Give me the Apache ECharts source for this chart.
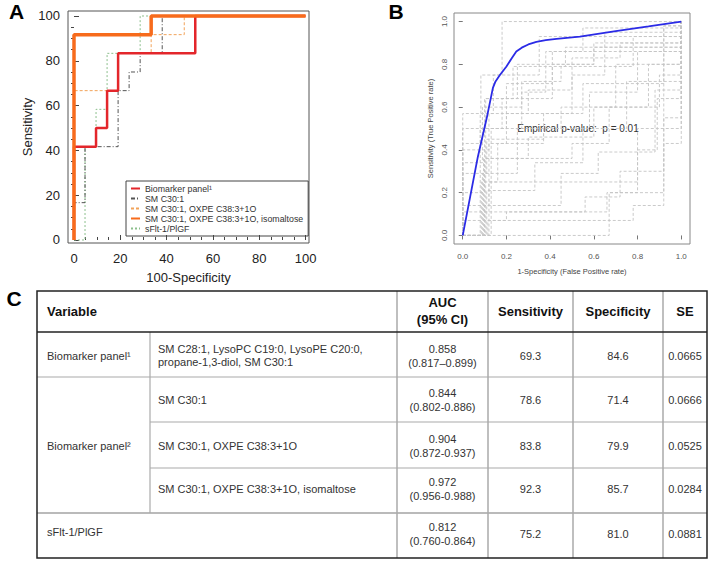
<!DOCTYPE html>
<html><head><meta charset="utf-8">
<script src="https://cdn.jsdelivr.net/npm/echarts@6/dist/echarts.min.js"></script>
<style>html,body{margin:0;padding:0;background:#fff}#c{width:709px;height:561px}</style>
</head><body><div id="c"></div>
<script>
// ---------- Panel A: ROC step curves (x = 100-Specificity, y = Sensitivity) ----------
const seriesNamesA = ['Biomarker panel¹', 'SM C30:1', 'SM C30:1, OXPE C38:3+1O', 'SM C30:1, OXPE C38:3+1O, isomaltose', 'sFlt-1/PlGF'];
const rocBiomarker1 = [[0,0],[0,41.67],[9.52,50],[14.29,66.67],[19.05,83.33],[52.38,100],[100,100]];
const rocSM = [[0,0],[0,16.67],[4.76,41.67],[19.05,66.67],[23.81,75],[28.57,83.33],[38.1,100],[100,100]];
const rocSMOXPE = [[0,0],[0,66.67],[19.05,83.33],[33.33,91.67],[47.62,100],[100,100]];
const rocSMOXPEIso = [[0,0],[0,91.67],[33.33,100],[100,100]];
const rocSflt = [[0,0],[4.76,41.67],[9.52,58.33],[14.29,83.33],[28.57,100],[100,100]];
const ticksA = [0, 20, 40, 60, 80, 100];
const minorTicksA = [5,10,15,25,30,35,45,50,55,65,70,75,85,90,95];

// ---------- Panel B: empirical ROC and permutation curves ----------
const rocEmpirical = [[0,0],[0.069,0.367],[0.11,0.55],[0.138,0.69],[0.15,0.72],[0.17,0.75],[0.2,0.79],[0.225,0.83],[0.245,0.86],[0.27,0.878],[0.3,0.893],[0.337,0.905],[0.38,0.913],[0.429,0.919],[0.5,0.926],[0.536,0.93],[0.7,0.955],[0.85,0.977],[1,1]];
const permutationCurves = [
  [[0,0],[0,0.57],[0.083,0.75],[0.18,1],[1,1]],
  [[0,0],[0,0.5],[0.1,0.64],[0.25,0.8],[0.6,0.88],[1,1]],
  [[0,0],[0,0.43],[0.08,0.5],[0.2,0.71],[0.41,0.86],[0.92,0.98],[1,1]],
  [[0,0],[0,0.4],[0.12,0.57],[0.3,0.68],[0.5,0.83],[0.72,0.9],[1,1]],
  [[0,0],[0,0.34],[0.09,0.6],[0.27,0.72],[0.45,0.79],[0.78,0.93],[1,1]],
  [[0,0],[0,0.29],[0.11,0.45],[0.37,0.5],[0.58,0.67],[0.8,0.86],[1,1]],
  [[0,0],[0,0.2],[0.1,0.36],[0.5,0.43],[0.67,0.6],[0.9,0.75],[1,1]],
  [[0,0],[0,0.14],[0.12,0.25],[0.8,0.4],[0.89,0.64],[1,0.88],[1,1]],
  [[0,0],[0,0.11],[0.56,0.18],[0.72,0.3],[0.92,0.55],[1,1]],
  [[0,0],[0,0.07],[0.78,0.14],[0.92,0.25],[0.92,0.98],[1,1]],
  [[0,0],[0.67,0.2],[0.8,0.5],[1,0.86],[1,1]],
  [[0,0],[0.08,0.57],[0.14,0.75],[0.35,0.93],[1,1]],
  [[0,0],[0.1,0.5],[0.18,0.64],[0.41,0.8],[0.6,0.9],[1,1]],
  [[0,0],[0.09,0.29],[0.25,0.5],[0.45,0.6],[0.7,0.8],[1,0.9],[1,1]],
  [[0,0],[0.11,0.21],[0.33,0.34],[0.55,0.5],[0.75,0.72],[1,0.84],[1,1]],
  [[0,0],[0.12,0.43],[0.2,0.57],[0.5,0.75],[0.65,0.95],[1,1]],
  [[0,0],[0.095,0.36],[0.3,0.46],[0.6,0.6],[0.85,0.8],[1,1]],
  [[0,0],[0.1,0.14],[0.45,0.29],[0.62,0.39],[0.88,0.68],[1,1]],
  [[0,0],[0.085,0.25],[0.16,0.43],[0.37,0.57],[0.55,0.71],[0.92,0.86],[1,1]],
  [[0,0],[0.105,0.64],[0.23,0.79],[0.47,0.88],[1,0.93],[1,1]],
  [[0,0],[0.115,0.07],[0.2,0.11],[0.66,0.2],[0.92,0.43],[1,1]],
  [[0,0],[0.13,0.5],[0.27,0.67],[0.38,0.86],[0.55,0.97],[1,1]]
];
const ticksB = [0, 0.2, 0.4, 0.6, 0.8, 1.0];
const pValueText = 'Empirical p-value:  p = 0.01';

// ---------- Panel C: table ----------
const tableHeaders = ['Variable', 'AUC', '(95% CI)', 'Sensitivity', 'Specificity', 'SE'];
const tableGroups = ['Biomarker panel¹', 'Biomarker panel²', 'sFlt-1/PlGF'];
const tableMarkers = ['SM C28:1, LysoPC C19:0, LysoPE C20:0,\npropane-1,3-diol, SM C30:1', 'SM C30:1', 'SM C30:1, OXPE C38:3+1O', 'SM C30:1, OXPE C38:3+1O, isomaltose', ''];
const tableAUC = ['0.858', '0.844', '0.904', '0.972', '0.812'];
const tableCI = ['(0.817–0.899)', '(0.802-0.886)', '(0.872-0.937)', '(0.956-0.988)', '(0.760-0.864)'];
const tableSens = ['69.3', '78.6', '83.8', '92.3', '75.2'];
const tableSpec = ['84.6', '71.4', '79.9', '85.7', '81.0'];
const tableSE = ['0.0665', '0.0666', '0.0525', '0.0284', '0.0881'];

const F = '"Liberation Sans", Arial, Helvetica, sans-serif';
const chart = echarts.init(document.getElementById('c'), null, {renderer: 'svg'});

function stepLine(name, data, color, width, type, z) {
  return {type: 'line', name, data, step: 'end', xAxisIndex: 0, yAxisIndex: 0, symbol: 'none', z,
    lineStyle: {color, width, type}, itemStyle: {color}, emphasis: {disabled: true}, animation: false};
}

const series = [];
permutationCurves.forEach((c, i) => {
  series.push({type: 'line', name: 'perm' + i, data: c, step: 'end', xAxisIndex: 2, yAxisIndex: 2, symbol: 'none',
    lineStyle: {color: '#c4c4c4', width: 0.9, type: [3, 2]}, emphasis: {disabled: true}, animation: false, z: 2});
});
series.push({type: 'line', name: 'empirical', data: rocEmpirical, xAxisIndex: 2, yAxisIndex: 2, symbol: 'none',
  smooth: false, lineStyle: {color: '#2b2be6', width: 1.8}, emphasis: {disabled: true}, animation: false, z: 5});

series.push(stepLine(seriesNamesA[4], rocSflt, '#8cbf8c', 1, [2, 2], 3));
series.push(stepLine(seriesNamesA[1], rocSM, '#555555', 1, [4, 2, 1, 2], 4));
series.push(stepLine(seriesNamesA[2], rocSMOXPE, '#f2a35a', 1, [3, 2], 5));
series.push(stepLine(seriesNamesA[0], rocBiomarker1, '#e3262b', 2.5, 'solid', 6));
series.push(stepLine(seriesNamesA[3], rocSMOXPEIso, '#f76b1c', 3.5, 'solid', 7));

const axLab = {fontFamily: F, fontSize: 13, color: '#222'};
const axB = {fontFamily: F, fontSize: 8, color: '#555'};

// table graphic
const G = [];
const colL = 37, colSub = 150, colAUC = 397, colSens = 488, colSpec = 573, colSE = 663, colR = 707;
const rT = 291, rH = 332, r1 = 377, r2 = 422, r3 = 468, r4 = 513, rB = 558;
function hl(x1, x2, y, c, w) { G.push({type: 'line', silent: true, shape: {x1, y1: y, x2, y2: y}, style: {stroke: c, lineWidth: w}}); }
function vl(x, y1, y2, c, w) { G.push({type: 'line', silent: true, shape: {x1: x, y1, x2: x, y2}, style: {stroke: c, lineWidth: w}}); }
function tx(text, x, y, opt) {
  G.push({type: 'text', silent: true, x, y, style: Object.assign({text, fontFamily: F, fontSize: 11, fill: '#333',
    align: 'center', verticalAlign: 'middle'}, opt || {})});
}
hl(colL, colR, r1, '#aaa', 1.2);
hl(colSub, colR, r2, '#aaa', 1.2);
hl(colSub, colR, r3, '#aaa', 1.2);
hl(colL, colR, r4, '#777', 1.2);
vl(colSub, rH, r4, '#aaa', 1.2);
[colAUC, colSens, colSpec, colSE].forEach(x => vl(x, rT, rB, '#aaa', 1.5));
hl(colL, colR, rH, '#222', 1.5);
G.push({type: 'rect', silent: true, shape: {x: colL, y: rT, width: colR - colL, height: rB - rT}, style: {fill: 'none', stroke: '#222', lineWidth: 1.5}});

const hdr = {fontSize: 13, fontWeight: 'bold', fill: '#111'};
const hY = (rT + rH) / 2;
tx(tableHeaders[0], 47, hY, Object.assign({align: 'left'}, hdr));
tx(tableHeaders[1], (colAUC + colSens) / 2, hY - 9, hdr);
tx(tableHeaders[2], (colAUC + colSens) / 2, hY + 8, hdr);
tx(tableHeaders[3], (colSens + colSpec) / 2, hY, hdr);
tx(tableHeaders[4], (colSpec + colSE) / 2, hY, hdr);
tx(tableHeaders[5], (colSE + colR) / 2, hY, hdr);

const rowC = [355.5, 400, 445.5, 489, 533.5];
tx(tableGroups[0], 47, rowC[0], {align: 'left'});
tx(tableGroups[1], 47, rowC[2], {align: 'left'});
tx(tableGroups[2], 47, rowC[4] - 2, {align: 'left'});
for (let i = 0; i < 5; i++) {
  if (tableMarkers[i]) tx(tableMarkers[i], 158, rowC[i], {align: 'left', lineHeight: 13});
  tx(tableAUC[i], (colAUC + colSens) / 2, rowC[i] - 7);
  tx(tableCI[i], (colAUC + colSens) / 2, rowC[i] + 7);
  tx(tableSens[i], (colSens + colSpec) / 2, rowC[i]);
  tx(tableSpec[i], (colSpec + colSE) / 2, rowC[i]);
  tx(tableSE[i], (colSE + colR) / 2, rowC[i]);
}
// panel letters and annotation
const letter = {fontSize: 21, fontWeight: 'bold', fill: '#000'};
tx('A', 16.5, 11.5, letter);
tx('B', 396, 11.5, letter);
tx('C', 14, 298, letter);
tx(pValueText, 578, 128.5, {fontSize: 10, fill: '#333'});

const option = {
  animation: false,
  backgroundColor: '#fff',
  grid: [
    {left: 68, top: 11, width: 241, height: 232, show: true, borderColor: '#555', borderWidth: 1, backgroundColor: 'transparent'},
    {left: 454, top: 13, width: 236, height: 231, show: true, borderColor: '#888', borderWidth: 1, backgroundColor: 'transparent'}
  ],
  xAxis: [
    {type: 'value', gridIndex: 0, min: -2.59, max: 101.5, position: 'bottom',
      name: '100-Specificity', nameLocation: 'middle', nameGap: 28, nameTextStyle: axLab,
      axisLine: {show: false}, splitLine: {show: false},
      axisTick: {inside: true, length: 5, customValues: ticksA, lineStyle: {color: '#444'}},
      axisLabel: {customValues: ticksA, margin: 9, ...axLab}},
    {type: 'value', gridIndex: 0, min: -2.59, max: 101.5, position: 'bottom',
      axisLine: {show: false}, splitLine: {show: false}, axisLabel: {show: false},
      axisTick: {inside: true, length: 3, customValues: minorTicksA, lineStyle: {color: '#444'}}},
    {type: 'value', gridIndex: 1, min: -0.04, max: 1.04, position: 'bottom',
      name: '1-Specificity (False Positive rate)', nameLocation: 'middle', nameGap: 23,
      nameTextStyle: {fontFamily: F, fontSize: 7.5, color: '#444'},
      axisLine: {show: false}, splitLine: {show: false},
      axisTick: {length: 4, customValues: ticksB, lineStyle: {color: '#777'}},
      axisLabel: {customValues: ticksB, margin: 8, formatter: v => v.toFixed(1), ...axB}}
  ],
  yAxis: [
    {type: 'value', gridIndex: 0, min: -1.34, max: 102.23,
      name: 'Sensitivity', nameLocation: 'middle', nameGap: 26, nameTextStyle: axLab,
      axisLine: {show: false}, splitLine: {show: false},
      axisTick: {inside: true, length: 5, customValues: ticksA, lineStyle: {color: '#444'}},
      axisLabel: {customValues: ticksA, margin: 8, ...axLab}},
    {type: 'value', gridIndex: 0, min: -1.34, max: 102.23,
      axisLine: {show: false}, splitLine: {show: false}, axisLabel: {show: false},
      axisTick: {inside: true, length: 3, customValues: minorTicksA, lineStyle: {color: '#444'}}},
    {type: 'value', gridIndex: 1, min: -0.04, max: 1.04,
      name: 'Sensitivity (True Positive rate)', nameLocation: 'middle', nameGap: 20,
      nameTextStyle: {fontFamily: F, fontSize: 7.5, color: '#444'},
      axisLine: {show: false}, splitLine: {show: false},
      axisTick: {length: 4, customValues: ticksB, lineStyle: {color: '#777'}},
      axisLabel: {customValues: ticksB, margin: 6, rotate: 90, formatter: v => v.toFixed(1), ...axB}}
  ],
  legend: {
    data: seriesNamesA, orient: 'vertical', left: 126, top: 181,
    itemWidth: 9, itemHeight: 8, itemGap: 1, padding: [3, 5, 3, 4],
    borderColor: '#444', borderWidth: 1, selectedMode: false,
    itemStyle: {color: 'transparent', borderColor: 'transparent', borderWidth: 0},
    textStyle: {fontFamily: F, fontSize: 8.8, color: '#333', lineHeight: 9}
  },
  series,
  graphic: G
};
chart.setOption(option);
</script>
</body></html>
